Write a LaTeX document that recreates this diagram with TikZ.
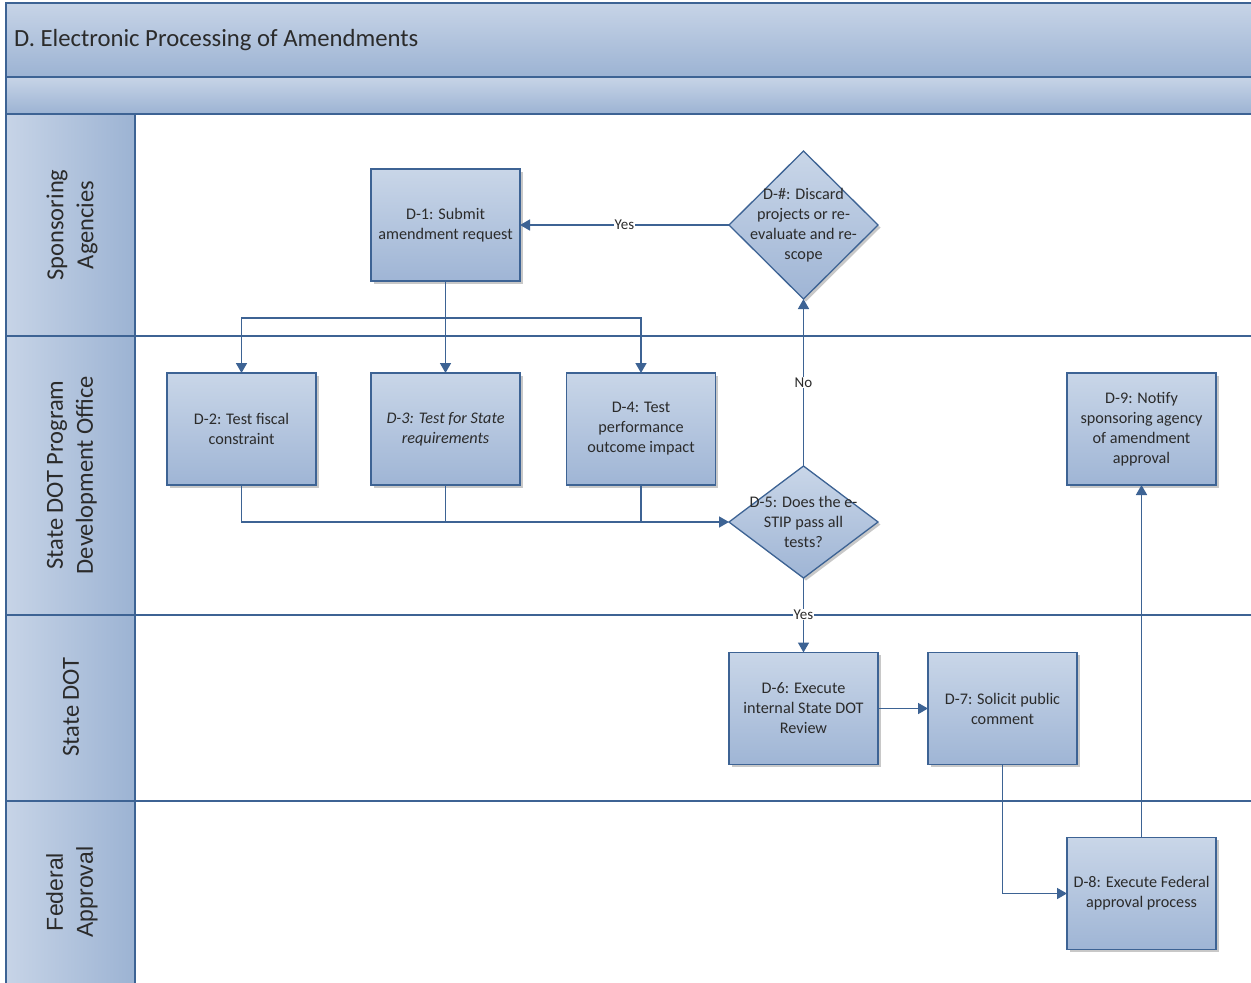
\documentclass[tikz,border=0pt]{standalone}
\usepackage{fontspec}
\setmainfont{Carlito}
\newfontfamily\arialfont{Liberation Sans}
\usetikzlibrary{arrows.meta,shapes.geometric,shadows}

\definecolor{edge}{HTML}{3D6394}
\definecolor{boxtop}{HTML}{C9D6E8}
\definecolor{boxbot}{HTML}{9FB5D5}
\definecolor{bartop}{HTML}{C7D4E7}
\definecolor{barbot}{HTML}{9CB3D3}
\definecolor{ink}{HTML}{2B2B2B}

\tikzset{
  boxshadow/.style={drop shadow={shadow xshift=2.5pt, shadow yshift=-2.5pt, opacity=0.3, fill=black!70}},
  proc/.style={rectangle, draw=edge, line width=1.3pt, top color=boxtop, bottom color=boxbot,
    minimum width=149pt, minimum height=112pt, inner sep=2pt, outer sep=0pt, align=center,
    text=ink, font=\fontsize{16.2}{20}\selectfont, boxshadow},
  decision/.style={diamond, draw=edge, line width=1.3pt, top color=boxtop, bottom color=boxbot,
    inner sep=0pt, outer sep=0pt, minimum width=149pt, boxshadow},
  dtext/.style={align=center, text=ink, font=\fontsize{16.2}{20}\selectfont, inner sep=0pt},
  lanehead/.style={draw=edge, line width=1.3pt, left color=bartop, right color=barbot},
  bar/.style={draw=edge, line width=1.6pt, top color=bartop, bottom color=barbot},
  lanetext/.style={rotate=90, align=center, text=ink, font=\fontsize{24.5}{30}\selectfont},
  laneline/.style={draw=edge, line width=1.3pt},
  wire/.style={draw=edge, line width=1.6pt},
  flow/.style={wire, -{Triangle[length=10pt, width=11pt]}},
  lbl/.style={fill=white, inner sep=1pt, text=ink, font=\fontsize{15}{16}\selectfont},
}

\begin{document}
\begin{tikzpicture}[x=1pt, y=-1pt]
  \useasboundingbox (0,0) rectangle (1251,983);
  \fill[white] (0,0) rectangle (1251,983);

  % title bars
  \path[bar] (6,3) rectangle (1253,77);
  \path[bar] (6,77) rectangle (1253,114);
  \node[anchor=west, text=ink, font=\fontsize{24.7}{28}\selectfont, inner sep=0pt] (title) at (14,40)
    {D. Electronic Processing of Amendments};

  % swimlane headers
  \path[lanehead] (6,114) rectangle (135,336);
  \path[lanehead] (6,336) rectangle (135,615);
  \path[lanehead] (6,615) rectangle (135,801);
  \path[lanehead] (6,801) rectangle (135,985);

  % lane separators
  \draw[laneline] (135,336) -- (1253,336);
  \draw[laneline] (135,615) -- (1253,615);
  \draw[laneline] (135,801) -- (1253,801);

  \node[lanetext] (lane1) at (72,225) {Sponsoring\\Agencies};
  \node[lanetext] (lane2) at (72,475) {State DOT Program\\Development Office};
  \node[lanetext] (lane3) at (71,707) {State DOT};
  \node[lanetext, font=\arialfont\fontsize{23}{30}\selectfont] (lane4) at (72,892) {Federal\\Approval};

  % process steps
  \node[proc] (d1) at (445.5,225) {D-1: Submit\\amendment request};
  \node[proc] (d2) at (241.5,429) {D-2: Test fiscal\\constraint};
  \node[proc, font=\itshape\fontsize{16.2}{20}\selectfont] (d3) at (445.5,429) {D-3: Test for State\\requirements};
  \node[proc] (d4) at (641,429) {D-4: Test\\performance\\outcome impact};
  \node[proc] (d9) at (1141.5,429) {D-9: Notify\\sponsoring agency\\of amendment\\approval};
  \node[proc] (d6) at (803.5,708.5) {D-6: Execute\\internal State DOT\\Review};
  \node[proc] (d7) at (1002.5,708.5) {D-7: Solicit public\\comment};
  \node[proc] (d8) at (1141.5,893.5) {D-8: Execute Federal\\approval process};

  % decisions
  \node[decision, minimum height=148pt] (dh) at (803.5,225) {};
  \node[dtext] (dh-text) at (dh.center) {D-\#: Discard\\projects or re-\\evaluate and re-\\scope};
  \node[decision, minimum height=112pt] (d5) at (803.5,522) {};
  \node[dtext] (d5-text) at (d5.center) {D-5: Does the e-\\STIP pass all\\tests?};

  % connectors
  \draw[flow] (dh.west) -- node[lbl] {Yes} (d1.east);

  \coordinate (split) at (445.5,318);
  \draw[wire] (d1.south) -- (split);
  \draw[flow] (split) -| (d2.north);
  \draw[flow] (split) -| (d4.north);
  \draw[flow] (split) -- (d3.north);

  \draw[flow] (d2.south) |- (d5.west);
  \draw[wire] (d3.south) -- (d3.south |- d5.west);
  \draw[wire] (d4.south) -- (d4.south |- d5.west);

  \draw[flow] (d5.north) -- node[lbl] {No} (dh.south);
  \draw[flow] (d5.south) -- node[lbl, pos=0.49] {Yes} (d6.north);
  \draw[flow] (d6.east) -- (d7.west);
  \draw[flow] (d7.south) |- (d8.west);
  \draw[flow] (d8.north) -- (d9.south);
\end{tikzpicture}
\end{document}
